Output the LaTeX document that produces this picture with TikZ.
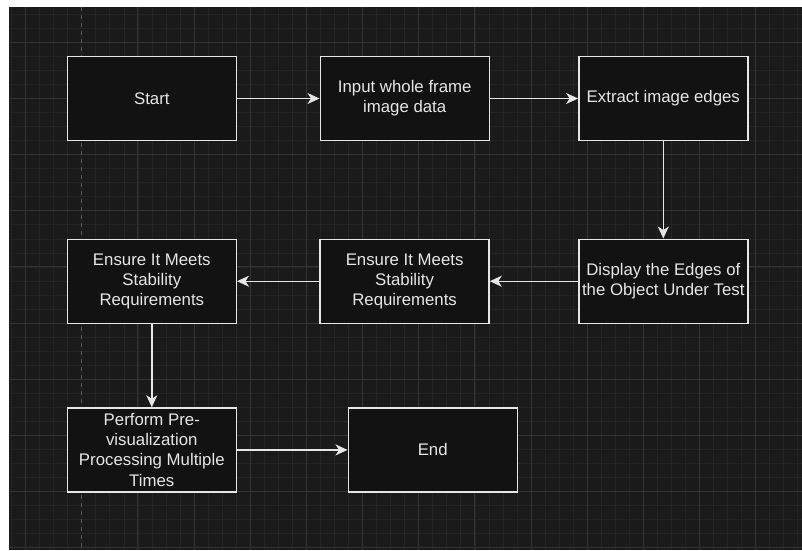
\documentclass[tikz,border=0pt]{standalone}
\usepackage{fontspec}
\setmainfont{Liberation Sans}
\usepackage{tikz}
\usetikzlibrary{arrows.meta}
\definecolor{canvas}{HTML}{1A1A1A}
\definecolor{boxfill}{HTML}{121212}
\definecolor{gridminor}{HTML}{242424}
\definecolor{gridmajor}{HTML}{333333}
\definecolor{ink}{HTML}{E6E6E6}

\begin{document}
\begin{tikzpicture}[x=1pt,y=-1pt,
    every node/.style={draw=ink,fill=boxfill,text=ink,line width=1.4pt,minimum width=169pt,minimum height=84pt,
        inner sep=0pt,align=center,font=\fontsize{16.8}{20.16}\selectfont},
    flow/.style={draw=ink,line width=1.4pt,-{Stealth[length=12pt,width=11pt,inset=3.5pt]}}]
                \useasboundingbox (0,0) rectangle (802,550);
                \fill[white] (0,0) rectangle (802,550);
                \fill[canvas] (9,7) rectangle (802,550);
                \begin{scope}
                    \clip (9,7) rectangle (802,550);
                    \foreach \k in {0,...,56}
                        \draw[gridminor,line width=0.7pt] (11.56+14.04*\k,7) -- (11.56+14.04*\k,550);
                    \foreach \k in {0,...,39}
                        \draw[gridminor,line width=0.7pt] (9,0.18+14.04*\k) -- (802,0.18+14.04*\k);
                    \foreach \k in {0,2,3,...,13}
                        \draw[gridmajor,line width=0.9pt] (25.6+56.16*\k,7) -- (25.6+56.16*\k,550);
                    \foreach \k in {0,...,9}
                        \draw[gridmajor,line width=0.9pt] (9,42.3+56.16*\k) -- (802,42.3+56.16*\k);
                    \draw[gray!70!black,line width=0.9pt,dash pattern=on 4pt off 4pt] (81.7,7) -- (81.7,550);
                \end{scope}

                \node (start) at (151.8,98.5) {Start};
                \node (input) at (404.7,98.5) {Input whole frame\\image data};
                \node (extract) at (663.3,98.5) {Extract image edges};
                \node (display) at (663.3,281.2) {Display the Edges of\\the Object Under Test};
                \node (ensureB) at (404.6,281.2) {Ensure It Meets\\Stability\\Requirements};
                \node (ensureA) at (151.8,281.2) {Ensure It Meets\\Stability\\Requirements};
                \node (perform) at (151.8,449.9) {Perform Pre-\\visualization\\Processing Multiple\\Times};
                \node (end) at (432.7,449.9) {End};

                \draw[flow] (start) -- (input);
                \draw[flow] (input) -- (extract);
                \draw[flow] (extract) -- (display);
                \draw[flow] (display) -- (ensureB);
                \draw[flow] (ensureB) -- (ensureA);
                \draw[flow] (ensureA) -- (perform);
                \draw[flow] (perform) -- (end);
            \end{tikzpicture}
\end{document}
